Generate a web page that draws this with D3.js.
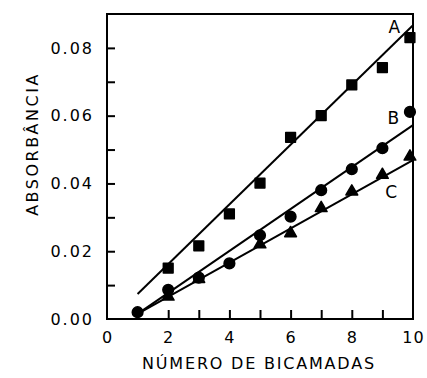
<!DOCTYPE html>
<html><head><meta charset="utf-8">
<script src="https://cdn.jsdelivr.net/npm/d3@7"></script>
<style>
html,body{margin:0;padding:0;background:#fff;}
text{font-family:"DejaVu Sans",sans-serif;fill:#000;}
</style></head>
<body>
<svg id="c" width="427" height="378"></svg>
<script>
// Data
const xTicks = [0, 2, 4, 6, 8, 10];
const xMinorTicks = [1, 2, 3, 4, 5, 6, 7, 8, 9];
const yTicks = [0, 0.02, 0.04, 0.06, 0.08];
const yMinorTicks = [0.01, 0.02, 0.03, 0.04, 0.05, 0.06, 0.07, 0.08];

const aX = [2, 3, 4, 5, 6, 7, 8, 9, 9.9];
const aY = [0.0150, 0.0216, 0.0310, 0.0401, 0.0536, 0.0600, 0.0691, 0.0742, 0.0830];
const bX = [1, 2, 3, 4, 5, 6, 7, 8, 9, 9.9];
const bY = [0.0020, 0.0086, 0.0122, 0.0164, 0.0247, 0.0302, 0.0380, 0.0442, 0.0504, 0.0611];
const cX = [2, 3, 5, 6, 7, 8, 9, 9.9];
const cY = [0.0066, 0.0118, 0.0220, 0.0253, 0.0327, 0.0376, 0.0425, 0.0479];

const fitA = [[1, 0.0074], [10, 0.0867]];
const fitB = [[1, 0.0015], [10, 0.0572]];
const fitC = [[1, 0.0015], [10, 0.0469]];

const seriesLabels = ["A", "B", "C"];
const labelPos = [[9.39, 0.0844], [9.36, 0.0575], [9.29, 0.0357]];

const svg = d3.select("#c");
const L = 107, R = 413, T = 14, B = 319;
const x = d3.scaleLinear().domain([0, 10]).range([L, R]);
const y = d3.scaleLinear().domain([0, 0.09]).range([B, T]);

// frame
svg.append("rect").attr("x", L).attr("y", T).attr("width", R - L).attr("height", B - T)
  .attr("fill", "none").attr("stroke", "#000").attr("stroke-width", 2);

// ticks (inward)
const gx = svg.append("g").attr("transform", `translate(0,${B})`)
  .call(d3.axisTop(x).tickValues(xMinorTicks).tickSize(9).tickFormat(""));
gx.select(".domain").remove();
gx.selectAll("line").attr("stroke-width", 2);

const gy = svg.append("g").attr("transform", `translate(${L},0)`)
  .call(d3.axisRight(y).tickValues(yMinorTicks).tickSize(8).tickFormat(""));
gy.select(".domain").remove();
gy.selectAll("line").attr("stroke-width", 2);

// tick labels
const gxl = svg.append("g").attr("transform", `translate(0,${B})`)
  .call(d3.axisBottom(x).tickValues(xTicks).tickSize(0).tickPadding(13).tickFormat(d3.format("d")));
gxl.select(".domain").remove();
gxl.selectAll("text").attr("font-size", 16).attr("font-family", "DejaVu Sans").attr("letter-spacing", 1);

const gyl = svg.append("g").attr("transform", `translate(${L},0)`)
  .call(d3.axisLeft(y).tickValues(yTicks).tickSize(0).tickPadding(13).tickFormat(d3.format(".2f")));
gyl.select(".domain").remove();
gyl.selectAll("text").attr("font-size", 16).attr("font-family", "DejaVu Sans").attr("letter-spacing", 2);

// axis titles
svg.append("text").attr("x", 259).attr("y", 369).attr("text-anchor", "middle")
  .attr("font-size", 16).attr("letter-spacing", 1.8).text("NÚMERO DE BICAMADAS");
svg.append("text").attr("transform", "translate(38,144) rotate(-90)").attr("text-anchor", "middle")
  .attr("font-size", 16).attr("letter-spacing", 2.5).text("ABSORBÂNCIA");

// fit lines
const line = d3.line().x(d => x(d[0])).y(d => y(d[1]));
[fitA, fitB, fitC].forEach(f => {
  svg.append("path").attr("d", line(f)).attr("fill", "none").attr("stroke", "#000").attr("stroke-width", 2);
});

// markers
const sq = d3.symbol().type(d3.symbolSquare).size(95);
const ci = d3.symbol().type(d3.symbolCircle).size(90);
const tr = d3.symbol().type(d3.symbolTriangle).size(60);
function plot(xs, ys, sym) {
  svg.append("g").selectAll("path").data(xs.map((v, i) => [v, ys[i]])).join("path")
    .attr("transform", d => `translate(${x(d[0])},${y(d[1])})`)
    .attr("d", sym).attr("fill", "#000").attr("stroke", "#000").attr("stroke-width", 1.5)
    .attr("stroke-linejoin", "round");
}
plot(cX, cY, tr);
plot(bX, bY, ci);
plot(aX, aY, sq);

// series labels
svg.append("g").selectAll("text").data(seriesLabels).join("text")
  .attr("x", (d, i) => x(labelPos[i][0])).attr("y", (d, i) => y(labelPos[i][1]))
  .attr("text-anchor", "middle").attr("font-size", 17).text(d => d);
</script>
</body></html>
